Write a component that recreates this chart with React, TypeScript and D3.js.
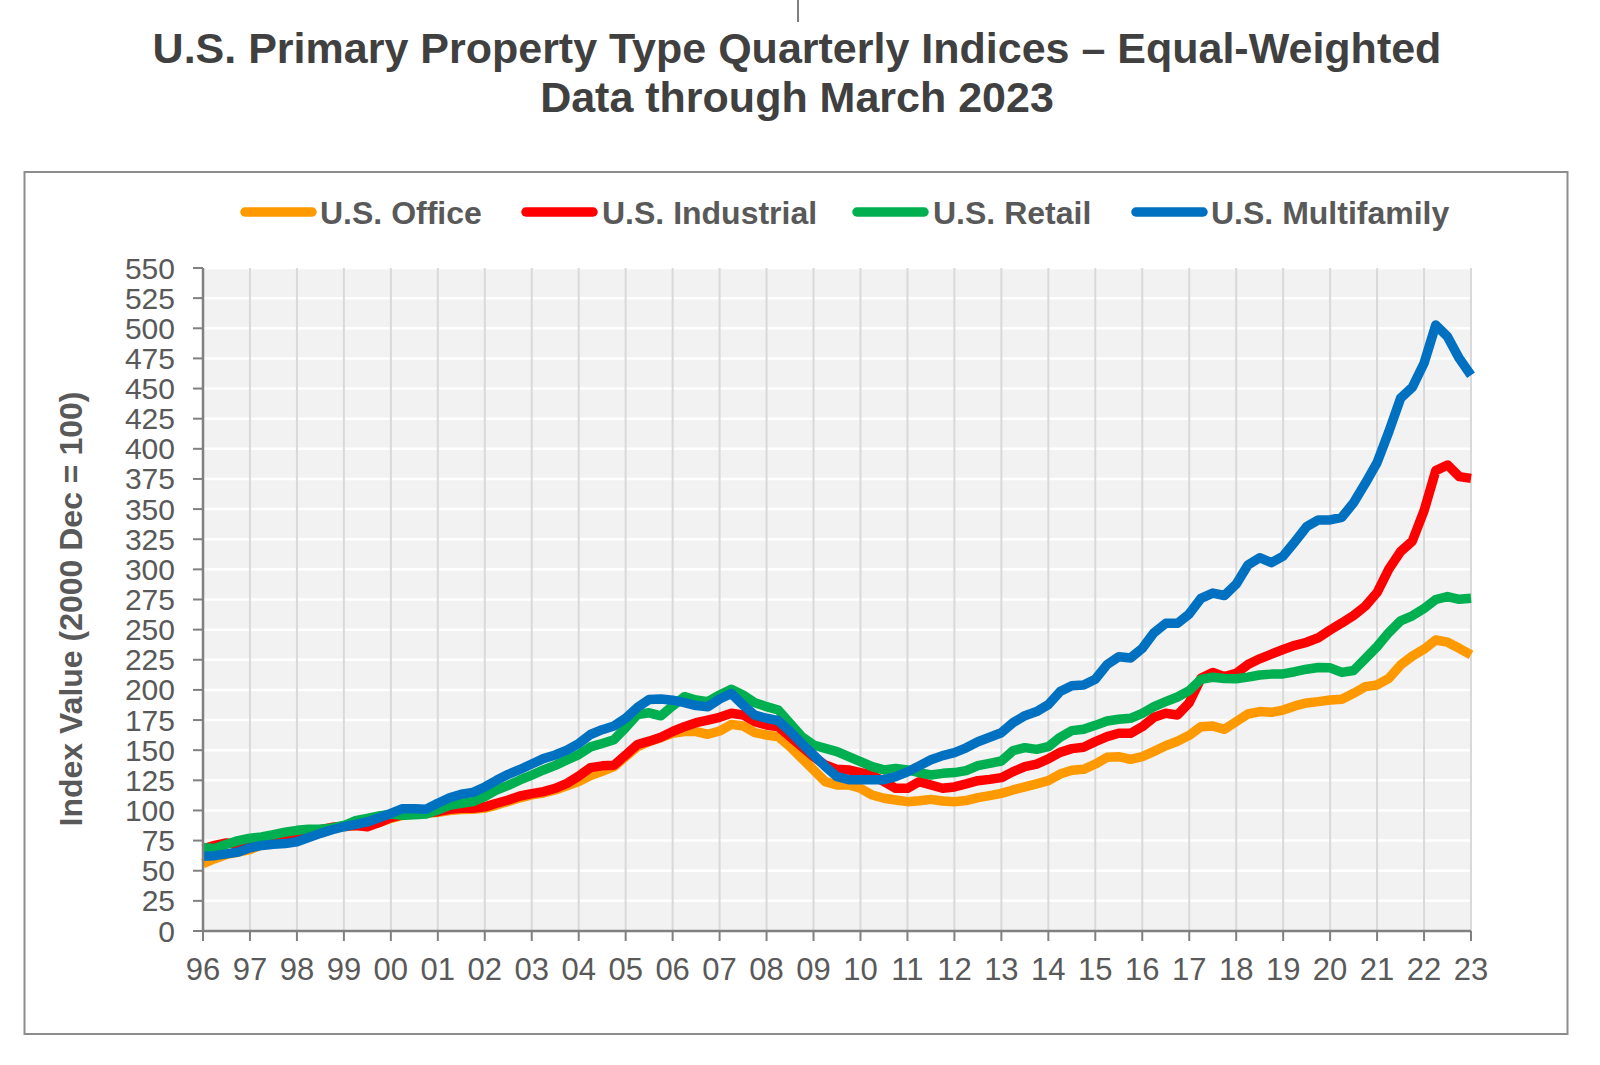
import React from "react";
import * as d3 from "d3";

// ---------- DATA ----------
const START_YEAR = 1996;
const END_YEAR = 2023;
const xTickLabels = ["96","97","98","99","00","01","02","03","04","05","06","07","08","09","10","11","12","13","14","15","16","17","18","19","20","21","22","23"];
const yTickValues = [0,25,50,75,100,125,150,175,200,225,250,275,300,325,350,375,400,425,450,475,500,525,550];
const seriesNames = ["U.S. Office", "U.S. Industrial", "U.S. Retail", "U.S. Multifamily"];
const seriesColors = ["#FF9900", "#FF0000", "#00B050", "#0070C0"];

// Quarterly, 1996 Q1 .. 2023 Q1
const office = [
  56, 60, 63.5, 65.5,
  67.5, 71.5, 74.5, 76.5,
  79, 81.5, 83.5, 85.5,
  86.5, 87.5, 88, 90,
  93.5, 96, 97, 97.5,
  98.5, 100, 100.8, 101,
  102, 104.5, 107.5, 110.5,
  113, 114.5, 117, 120.5,
  124, 129, 132.5, 136.3,
  144.6, 152.9, 157.1, 160.4,
  164, 165.4, 165.4, 163.2,
  165.9, 171.4, 170.1, 164.5,
  162.6, 161.2, 152.9, 143.3,
  133.6, 123.9, 121.1, 121.1,
  118.4, 112.8, 110.1, 108.7,
  107.3, 108.1, 109.2, 107.8,
  107.3, 108.2, 110.6, 112.3,
  114.2, 117, 119.5, 122,
  124.7, 130.2, 133.3, 134.1,
  138.5, 144.1, 144.6, 142.4,
  144.6, 149, 153.7, 157.4,
  162.3, 169.5, 170.1, 167.3,
  173.7, 180, 182, 181.4,
  183.3, 186.7, 189.2, 190.3,
  191.6, 192.2, 197.2, 202.7,
  204.1, 209.6, 220.6, 228,
  233.8, 241.4, 239.6, 234.5,
  229,
];

const industrial = [
  68, 71, 73, 72,
  75, 76.5, 77.5, 78.5,
  80, 82, 84, 86,
  87, 87.5, 86.5, 90,
  94, 96.5, 97.5, 98,
  99, 101, 101.8, 101.8,
  103, 106, 108.7, 112,
  114, 115.6, 118.4, 122.5,
  128.5, 135.5, 137, 137.5,
  146, 154.7, 157.5, 160.8,
  165.5, 169.5, 172.8, 175,
  177.3, 180.6, 179.2, 173.7,
  170.9, 169.5, 161.2, 152.9,
  144.6, 137.7, 134.1, 133.6,
  131.4, 129.4, 123.9, 118.4,
  118.4, 123.9, 121.1, 118.4,
  119.5, 122, 124.7, 125.8,
  127.2, 132.2, 136.3, 138.5,
  142.7, 148.2, 151.3, 152.4,
  157.1, 161.2, 164, 164,
  169.5, 177.3, 180.6, 179.2,
  189.4, 209.6, 214.5, 211,
  213.8, 221, 225.8, 229.7,
  233.5, 237, 239.5, 243.3,
  249.7, 255.6, 261.8, 269.5,
  280.8, 300.2, 314.7, 323.4,
  348.6, 381.9, 386.6, 376.9,
  375.5,
];

const retail = [
  69, 68.5, 72, 75,
  77, 78, 80, 82,
  83.5, 84.5, 84.5, 85.5,
  87.5, 91.5, 93.5, 95.5,
  97, 96, 96.5, 97,
  100.4, 104.3, 105.9, 107.3,
  111.4, 117, 120.8, 125.3,
  129.4, 133.6, 137.4, 141.9,
  146.3, 152.7, 155.6, 158.7,
  168.7, 179.6, 181, 178.5,
  186.7, 194.4, 191.6, 190.3,
  195.8, 200.5, 195.8, 189.4,
  186.1, 183.3, 172.3, 161.2,
  154.3, 151.5, 148.8, 144.6,
  140.5, 136.3, 133.6, 134.9,
  133.6, 131.4, 129.4, 130.8,
  131.4, 133, 137.2, 139.1,
  141, 149.6, 152.1, 150.7,
  152.9, 160.7, 166.2, 167.3,
  170.6, 174.2, 175.6, 176.4,
  180.6, 186.1, 190.2, 194.1,
  199.4, 208.7, 210.5, 209.5,
  209.3, 210.6, 212.4, 213.1,
  213.3, 215.1, 217.2, 218.6,
  218.3, 214.5, 216.1, 225.9,
  235.9, 247.6, 257.3, 261.5,
  267.6, 275, 277.4, 275.2,
  276,
];

const multifamily = [
  62, 62.5, 64, 65.5,
  69, 71, 72, 72.5,
  74, 77.5, 81, 84,
  86.5, 88.5, 90.5, 94,
  97.5, 101.5, 101.5, 101,
  106, 110.5, 113.5, 115,
  119.5, 125, 130, 134,
  138.5, 143, 146, 150,
  155.5, 163, 167, 170,
  176.5, 185.5, 192, 192.5,
  191.5, 189.5, 187, 186,
  192.5, 197, 187.5, 179,
  176.5, 174.5, 165.5, 155.5,
  146, 136.5, 128, 125.5,
  125.5, 125.5, 125.5, 128,
  132, 137, 142, 145.5,
  148, 152, 157, 160.7,
  164.5, 172.8, 178.6, 182,
  187.8, 198.6, 203.5, 204,
  208.8, 221, 227.5, 226.5,
  234.5, 247.5, 255.2, 255.2,
  263, 276, 280.3, 278.3,
  287.7, 303.6, 309.7, 305.6,
  311, 323, 335.4, 341,
  341, 343.2, 355.3, 371.4,
  388.5, 414.2, 441.9, 451,
  471, 502.7, 493, 475,
  461,
];

const seriesValues = [office, industrial, retail, multifamily];

// ---------- LAYOUT ----------
const W = 1600;
const H = 1065;
const PLOT = { left: 203, right: 1471, top: 268, bottom: 931 };
const FONT = "'Liberation Sans', Arial, Helvetica, sans-serif";
const TEXT_GRAY = "#595959";
const AXIS_GRAY = "#808080";

const legendLineX = [240, 521, 852, 1131];
const legendTextX = [320, 602, 933, 1211];

export default function App() {
  const x = d3.scaleLinear().domain([START_YEAR, END_YEAR]).range([PLOT.left, PLOT.right]);
  const y = d3.scaleLinear().domain([0, 550]).range([PLOT.bottom, PLOT.top]);
  const yearTicks = d3.range(START_YEAR, END_YEAR + 1);

  const line = d3
    .line<number>()
    .x((_, i) => x(START_YEAR + i / 4))
    .y((d) => y(d));

  return (
    <svg
      width={W}
      height={H}
      viewBox={`0 0 ${W} ${H}`}
      style={{ position: "absolute", left: 0, top: 0, display: "block", background: "#ffffff" }}
      fontFamily={FONT}
    >
      <rect x={0} y={0} width={W} height={H} fill="#ffffff" />
      {/* small mark at top */}
      <line x1={798} x2={798} y1={0} y2={22} stroke="#000" strokeWidth={1} />

      {/* Title */}
      <text x={797} y={63} textAnchor="middle" fontSize={43} fontWeight="bold" fill="#404040">
        U.S. Primary Property Type Quarterly Indices – Equal-Weighted
      </text>
      <text x={797} y={112} textAnchor="middle" fontSize={43} fontWeight="bold" fill="#404040">
        Data through March 2023
      </text>

      {/* Chart border */}
      <rect x={24.5} y={172} width={1543} height={862} fill="#ffffff" stroke="#8c8c8c" strokeWidth={2} />

      {/* Legend */}
      {seriesNames.map((name, i) => (
        <g key={name}>
          <line
            x1={legendLineX[i] + 5}
            x2={legendLineX[i] + 72}
            y1={212}
            y2={212}
            stroke={seriesColors[i]}
            strokeWidth={9.5}
            strokeLinecap="round"
          />
          <text x={legendTextX[i]} y={223.5} fontSize={32} fontWeight="bold" fill={TEXT_GRAY}>
            {name}
          </text>
        </g>
      ))}

      {/* Plot background */}
      <rect
        x={PLOT.left}
        y={PLOT.top}
        width={PLOT.right - PLOT.left}
        height={PLOT.bottom - PLOT.top}
        fill="#F2F2F2"
      />

      {/* Horizontal gridlines */}
      {yTickValues.map((v) => (
        <line
          key={"hg" + v}
          x1={PLOT.left}
          x2={PLOT.right}
          y1={y(v)}
          y2={y(v)}
          stroke="#ffffff"
          strokeWidth={2.5}
        />
      ))}

      {/* Vertical gridlines */}
      {yearTicks.map((yr) => (
        <line
          key={"vg" + yr}
          x1={x(yr)}
          x2={x(yr)}
          y1={PLOT.top}
          y2={PLOT.bottom}
          stroke="#D9D9D9"
          strokeWidth={2}
        />
      ))}

      {/* Series */}
      {seriesValues.map((vals, i) => (
        <path
          key={seriesNames[i]}
          d={line(vals) || ""}
          fill="none"
          stroke={seriesColors[i]}
          strokeWidth={9.5}
          strokeLinejoin="round"
          strokeLinecap="butt"
        />
      ))}

      {/* Y axis */}
      <line x1={PLOT.left} x2={PLOT.left} y1={PLOT.top} y2={PLOT.bottom} stroke={AXIS_GRAY} strokeWidth={2.5} />
      {yTickValues.map((v) => (
        <g key={"yt" + v}>
          <line x1={PLOT.left - 10} x2={PLOT.left} y1={y(v)} y2={y(v)} stroke={AXIS_GRAY} strokeWidth={2} />
          <text
            x={175}
            y={y(v) + 10.5}
            textAnchor="end"
            fontSize={30}
            fill={TEXT_GRAY}
          >
            {v}
          </text>
        </g>
      ))}

      {/* X axis */}
      <line x1={PLOT.left} x2={PLOT.right} y1={PLOT.bottom} y2={PLOT.bottom} stroke={AXIS_GRAY} strokeWidth={2.5} />
      {yearTicks.map((yr, i) => (
        <g key={"xt" + yr}>
          <line x1={x(yr)} x2={x(yr)} y1={PLOT.bottom} y2={PLOT.bottom + 10} stroke={AXIS_GRAY} strokeWidth={2} />
          <text x={x(yr)} y={980} textAnchor="middle" fontSize={31} fill={TEXT_GRAY}>
            {xTickLabels[i]}
          </text>
        </g>
      ))}

      {/* Y axis title */}
      <text
        transform={`translate(82, 609) rotate(-90)`}
        textAnchor="middle"
        fontSize={32}
        fontWeight="bold"
        fill={TEXT_GRAY}
      >
        Index Value (2000 Dec = 100)
      </text>
    </svg>
  );
}
